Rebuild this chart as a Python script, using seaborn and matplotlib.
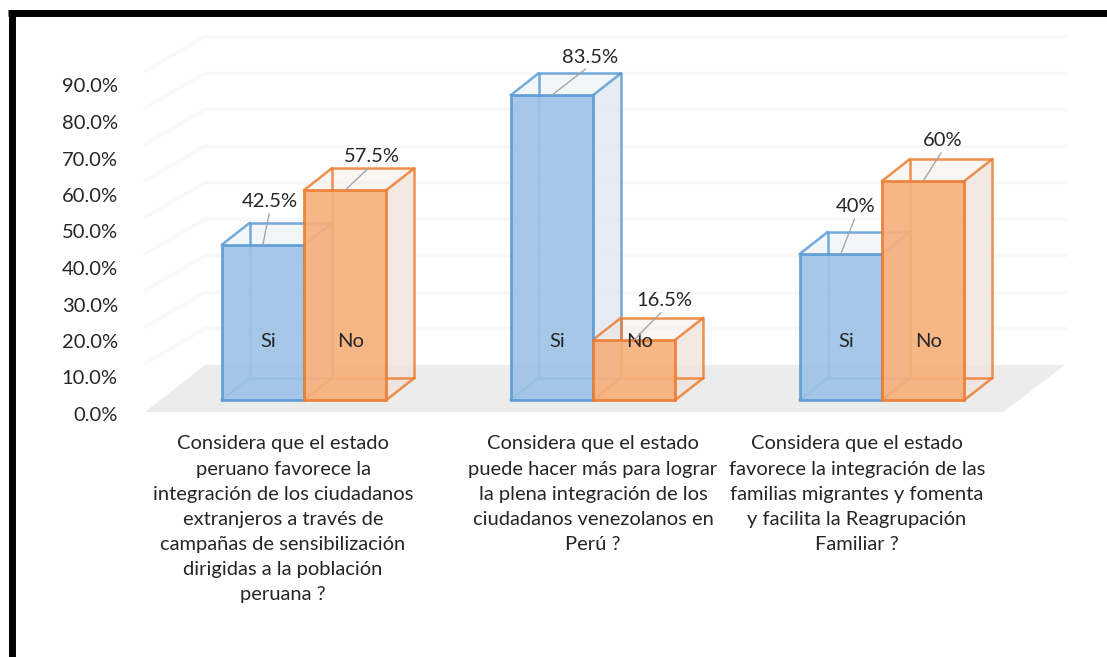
import numpy as np
import pandas as pd
import seaborn as sns
import matplotlib.pyplot as plt
import matplotlib.transforms as mtransforms
from matplotlib.patches import Polygon
from matplotlib.lines import Line2D

# # # datos # # #

preguntas = [
    "Considera que el estado\nperuano favorece la\nintegración de los ciudadanos\nextranjeros a través de\ncampañas de sensibilización\ndirigidas a la población\nperuana ?",
    "Considera que el estado\npuede hacer más para lograr\nla plena integración de los\nciudadanos venezolanos en\nPerú ?",
    "Considera que el estado\nfavorece la integración de las\nfamilias migrantes y fomenta\ny facilita la Reagrupación\nFamiliar ?",
]
respuestas = ["Si", "No"]
si_vals = [42.5, 83.5, 40.0]
no_vals = [57.5, 16.5, 60.0]
si_text = ["42.5%", "83.5%", "40%"]
no_text = ["57.5%", "16.5%", "60%"]
y_ticks = [0, 10, 20, 30, 40, 50, 60, 70, 80, 90]

df = pd.DataFrame({
    "pregunta": preguntas * 2,
    "respuesta": ["Si"] * 3 + ["No"] * 3,
    "valor": si_vals + no_vals,
})

sns.set_style("white")
plt.rcParams["font.family"] = ["Lato", "DejaVu Sans"]
FS = 14.5

W, H = 1107, 657
fig = plt.figure(figsize=(W / 100, H / 100), dpi=100)
ax = fig.add_axes([159.5 / W, (H - 414.6) / H, 924.8 / W, 379.6 / H])
ax.patch.set_alpha(0)

face = {"Si": "#9dc3e6", "No": "#f7b07c"}
edge = {"Si": "#5b9bd5", "No": "#ed7d31"}
side = {"Si": "#dfe7ef", "No": "#efe4dd"}

sns.barplot(data=df, x="pregunta", y="valor", hue="respuesta", order=preguntas,
            hue_order=respuestas, palette=face, width=0.57, saturation=1,
            legend=False, ax=ax)

ax.set_xlim(-0.5, 2.7)
ax.set_ylim(-4, 100)
for s in ax.spines.values():
    s.set_visible(False)

# pixel -> data
p0 = ax.transData.transform((0, 0))
sx = ax.transData.transform((1, 0))[0] - p0[0]
sy = ax.transData.transform((0, 1))[1] - p0[1]
dx, dy = 28 / sx, 22 / sy
wall = 35 / sy

# piso y pared de fondo (decorativo)
floor = Polygon([(-0.55, -12 / sy), (2.42, -12 / sy), (2.633, wall), (-0.343, wall)],
                closed=True, facecolor="#ececec", edgecolor="none", zorder=0.5, clip_on=False)
ax.add_patch(floor)
for v in y_ticks[1:]:
    ax.plot([-0.343, 2.633], [v + wall, v + wall], color="#f8f8f8", lw=2.5, zorder=0.3, clip_on=False)
    ax.plot([-0.55, -0.343], [v, v + wall], color="#f9f9f9", lw=2.5, zorder=0.3, clip_on=False)

# cajas 3D sobre las barras de seaborn
offs = {"Si": [(7, 43), (38, 38), (15, 47)], "No": [(27, 34), (30, 39), (20, 40)]}
texts = {"Si": si_text, "No": no_text}
for resp, cont in zip(respuestas, ax.containers):
    for i, bar in enumerate(cont):
        x0, w, h = bar.get_x(), bar.get_width(), bar.get_height()
        x1 = x0 + w
        bar.set_facecolor(face[resp])
        bar.set_alpha(0.92)
        bar.set_edgecolor(edge[resp])
        bar.set_linewidth(2)
        bar.set_zorder(3)
        ax.add_patch(Polygon([(x1, 0), (x1 + dx, dy), (x1 + dx, h + dy), (x1, h)],
                             facecolor=side[resp], alpha=0.8, edgecolor="none", zorder=2))
        ax.add_patch(Polygon([(x0, h), (x1, h), (x1 + dx, h + dy), (x0 + dx, h + dy)],
                             facecolor=side[resp], alpha=0.35, edgecolor="none", zorder=2))
        bx = [x0 + dx, x1 + dx, x1 + dx, x0 + dx, x0 + dx]
        by = [dy, dy, h + dy, h + dy, dy]
        ax.plot(bx, by, color=edge[resp], lw=1.8, alpha=0.85, zorder=2.5)
        for xx, yy in [(x0, 0), (x1, 0), (x1, h), (x0, h)]:
            ax.plot([xx, xx + dx], [yy, yy + dy], color=edge[resp], lw=1.8, alpha=0.85, zorder=2.5)
        xc = x0 + w / 2
        ax.text(xc + 0.02, 16, resp, ha="center", va="center", fontsize=FS, zorder=5)
        ax.annotate(texts[resp][i], xy=(xc, h), xytext=offs[resp][i], textcoords="offset pixels",
                    ha="center", va="center", fontsize=FS, zorder=6,
                    arrowprops=dict(arrowstyle="-", color="#a6a6a6", lw=1,
                                    shrinkA=0, shrinkB=0, relpos=(0.5, 0)))

ax.set_yticks(y_ticks)
ax.set_yticklabels([f"{v:.1f}%" for v in y_ticks], fontsize=FS)
ax.set_xticks(range(len(preguntas)))
ax.set_xticklabels(preguntas, fontsize=FS, ha="center", linespacing=1.58)
ax.tick_params(axis="y", length=0, pad=30)
ax.tick_params(axis="x", length=0, pad=15)
ax.set_xlabel("")
ax.set_ylabel("")
shift = mtransforms.ScaledTranslation(0, -14 / 100, fig.dpi_scale_trans)
for t in ax.yaxis.get_major_ticks():
    t.label1.set_transform(t.label1.get_transform() + shift)
# en el original las etiquetas de categoria siguen la perspectiva del piso
for t, sh in zip(ax.xaxis.get_major_ticks(), [-21, 0, -25]):
    t.label1.set_transform(t.label1.get_transform()
                           + mtransforms.ScaledTranslation(sh / 100, 0, fig.dpi_scale_trans))

# marco negro
fig.add_artist(Line2D([8 / W, 1], [1 - 13 / H] * 2, color="black", lw=5, solid_capstyle="butt"))
fig.add_artist(Line2D([11.5 / W] * 2, [0, 1 - 10 / H], color="black", lw=5, solid_capstyle="butt"))

fig.savefig("out.png", dpi=100)
